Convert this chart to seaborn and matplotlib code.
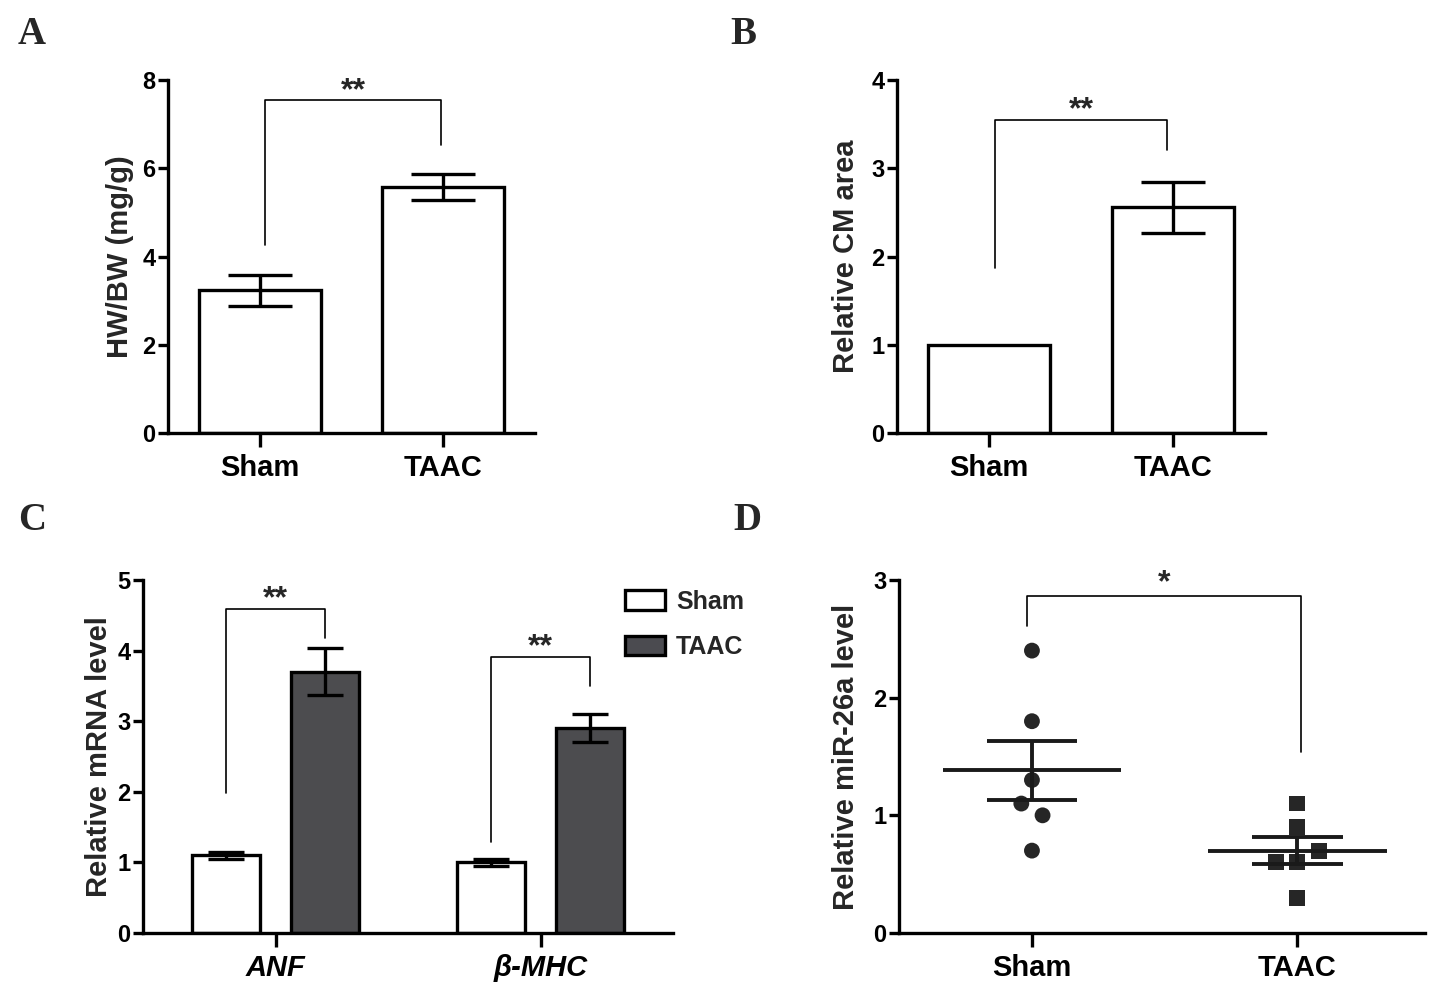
import numpy as np
import pandas as pd
import matplotlib
matplotlib.use("Agg")
import matplotlib.pyplot as plt
import seaborn as sns
from matplotlib.patches import Patch
from matplotlib.container import BarContainer

sns.set_theme(style="ticks")
plt.rcParams['font.family'] = ['Liberation Sans', 'DejaVu Sans']
plt.rcParams['font.weight'] = 'bold'

# Panel A: heart weight / body weight
groups = ["Sham", "TAAC"]
hwbw_mean = [3.24, 5.57]
hwbw_sem = [0.35, 0.29]

# Panel B: relative cardiomyocyte area
cm_mean = [1.0, 2.56]
cm_sem = [0.0, 0.29]

# Panel C: relative mRNA level
genes = ["ANF", "β-MHC"]
mrna_sham = [1.10, 1.00]
mrna_sham_sem = [0.05, 0.05]
mrna_taac = [3.70, 2.90]
mrna_taac_sem = [0.33, 0.20]

# Panel D: miR-26a level, individual animals
mir_sham = [2.4, 1.8, 1.3, 1.1, 1.0, 0.7]
mir_taac = [1.1, 0.9, 0.7, 0.6, 0.6, 0.3]
jitter_sham = [0, 0, 0, -0.04, 0.04, 0]
jitter_taac = [0, 0, 0.08, -0.08, 0, 0]

dark = "#4b4b50"
lw = 2.4

fig = plt.figure(figsize=(14.48, 9.92), dpi=100)
axA = fig.add_axes([0.116, 0.5635, 0.2535, 0.3558])
axB = fig.add_axes([0.6195, 0.5635, 0.254, 0.3558])
axC = fig.add_axes([0.0988, 0.0595, 0.366, 0.3558])
axD = fig.add_axes([0.621, 0.0595, 0.363, 0.3558])


def style_axis(ax, ymax, ylabel, pad=10):
    ax.set_ylim(0, ymax)
    ax.set_yticks(range(0, ymax + 1))
    sns.despine(ax=ax)
    for s in ["left", "bottom"]:
        ax.spines[s].set_linewidth(lw)
        ax.spines[s].set_color("black")
    ax.tick_params(axis="y", width=lw, length=7, labelsize=17, pad=2, colors="black")
    ax.tick_params(axis="x", width=lw, length=10, labelsize=21, pad=5, colors="black")
    ax.set_ylabel(ylabel, fontsize=21, fontweight="bold", labelpad=pad)
    ax.set_xlabel("")


def bracket(ax, x1, x2, top, y1, y2, text, ty):
    ax.plot([x1, x1, x2, x2], [y1, top, top, y2], color="black", lw=1.2)
    ax.text((x1 + x2) / 2, ty, text, ha="center", va="center", fontsize=23, fontweight="bold")


# ---- A ----
dfA = pd.DataFrame({"group": groups, "value": hwbw_mean})
sns.barplot(data=dfA, x="group", y="value", color="white", edgecolor="black",
            linewidth=lw, width=0.667, errorbar=None, ax=axA)
axA.errorbar(range(len(groups)), hwbw_mean, yerr=hwbw_sem, fmt="none",
             ecolor="black", elinewidth=lw, capsize=23, capthick=lw)
axA.set_xlim(-0.5, 1.5)
style_axis(axA, 8, "HW/BW (mg/g)", pad=6)
axA.set_yticks([0, 2, 4, 6, 8])
bracket(axA, 0.03, 0.99, 7.55, 4.26, 6.53, "**", 7.74)

# ---- B ----
dfB = pd.DataFrame({"group": groups, "value": cm_mean})
sns.barplot(data=dfB, x="group", y="value", color="white", edgecolor="black",
            linewidth=lw, width=0.667, errorbar=None, ax=axB)
axB.errorbar([1], cm_mean[1:], yerr=cm_sem[1:], fmt="none",
             ecolor="black", elinewidth=lw, capsize=23, capthick=lw)
axB.set_xlim(-0.5, 1.5)
style_axis(axB, 4, "Relative CM area", pad=8)
bracket(axB, 0.03, 0.97, 3.55, 1.87, 3.21, "**", 3.66)

# ---- C ----
dfC = pd.DataFrame({
    "gene": genes * 2,
    "group": ["Sham"] * len(genes) + ["TAAC"] * len(genes),
    "value": mrna_sham + mrna_taac,
})
sns.barplot(data=dfC, x="gene", y="value", hue="group",
            palette={"Sham": "white", "TAAC": dark}, edgecolor="black",
            linewidth=lw, width=0.748, gap=0.318, errorbar=None, legend=False, ax=axC)
sems = [mrna_sham_sem, mrna_taac_sem]
vals = [mrna_sham, mrna_taac]
bar_conts = [c for c in axC.containers if isinstance(c, BarContainer)]
centers = []
for i, cont in enumerate(bar_conts):
    xs = [p.get_x() + p.get_width() / 2 for p in cont.patches]
    centers.append(xs)
    axC.errorbar(xs, vals[i], yerr=sems[i], fmt="none", ecolor="black",
                 elinewidth=lw, capsize=13, capthick=lw)
axC.set_xlim(-0.5, 1.5)
style_axis(axC, 5, "Relative mRNA level", pad=3)
for lab in axC.get_xticklabels():
    lab.set_fontstyle("italic")
bracket(axC, centers[0][0], centers[1][0], 4.59, 1.98, 4.18, "**", 4.73)
bracket(axC, centers[0][1], centers[1][1], 3.91, 1.29, 3.50, "**", 4.05)
handles = [Patch(facecolor="white", edgecolor="black", linewidth=lw, label="Sham"),
           Patch(facecolor=dark, edgecolor="black", linewidth=lw, label="TAAC")]
fig.legend(handles=handles, loc="upper left", bbox_to_anchor=(625 / 1448, 1 - 590 / 992),
           frameon=False, fontsize=18, handlelength=1.6, handleheight=0.84,
           labelspacing=0.85, handletextpad=0.45, borderpad=0, borderaxespad=0)

# ---- D ----
dfD = pd.DataFrame({
    "group": ["Sham"] * len(mir_sham) + ["TAAC"] * len(mir_taac),
    "value": mir_sham + mir_taac,
    "pos": [0 + j for j in jitter_sham] + [1 + j for j in jitter_taac],
})
sns.scatterplot(data=dfD, x="pos", y="value", style="group",
                markers={"Sham": "o", "TAAC": "s"}, color="#262626",
                s=130, edgecolor="none", legend=False, ax=axD)
for i, pts in enumerate([mir_sham, mir_taac]):
    m = np.mean(pts)
    se = np.std(pts, ddof=1) / np.sqrt(len(pts))
    axD.hlines(m, i - 0.336, i + 0.336, color="#1a1a1a", lw=2.8)
    axD.hlines([m - se, m + se], i - 0.17, i + 0.17, color="#1a1a1a", lw=2.8)
    axD.vlines(i, m - se, m + se, color="#1a1a1a", lw=2.8)
axD.set_xticks([0, 1])
axD.set_xticklabels(groups)
axD.set_xlim(-0.5, 1.48)
style_axis(axD, 3, "Relative miR-26a level", pad=10)
bracket(axD, -0.02, 1.015, 2.86, 2.61, 1.54, "*", 2.97)

# panel letters
for letter, x, y in [("A", 18, 35), ("B", 730, 35), ("C", 18, 520), ("D", 733, 520)]:
    fig.text(x / 1448, 1 - y / 992, letter, fontsize=28, fontweight="bold",
             family=["Liberation Serif", "DejaVu Serif"], va="center", ha="left")

fig.savefig("out.png", dpi=100, facecolor="white")
